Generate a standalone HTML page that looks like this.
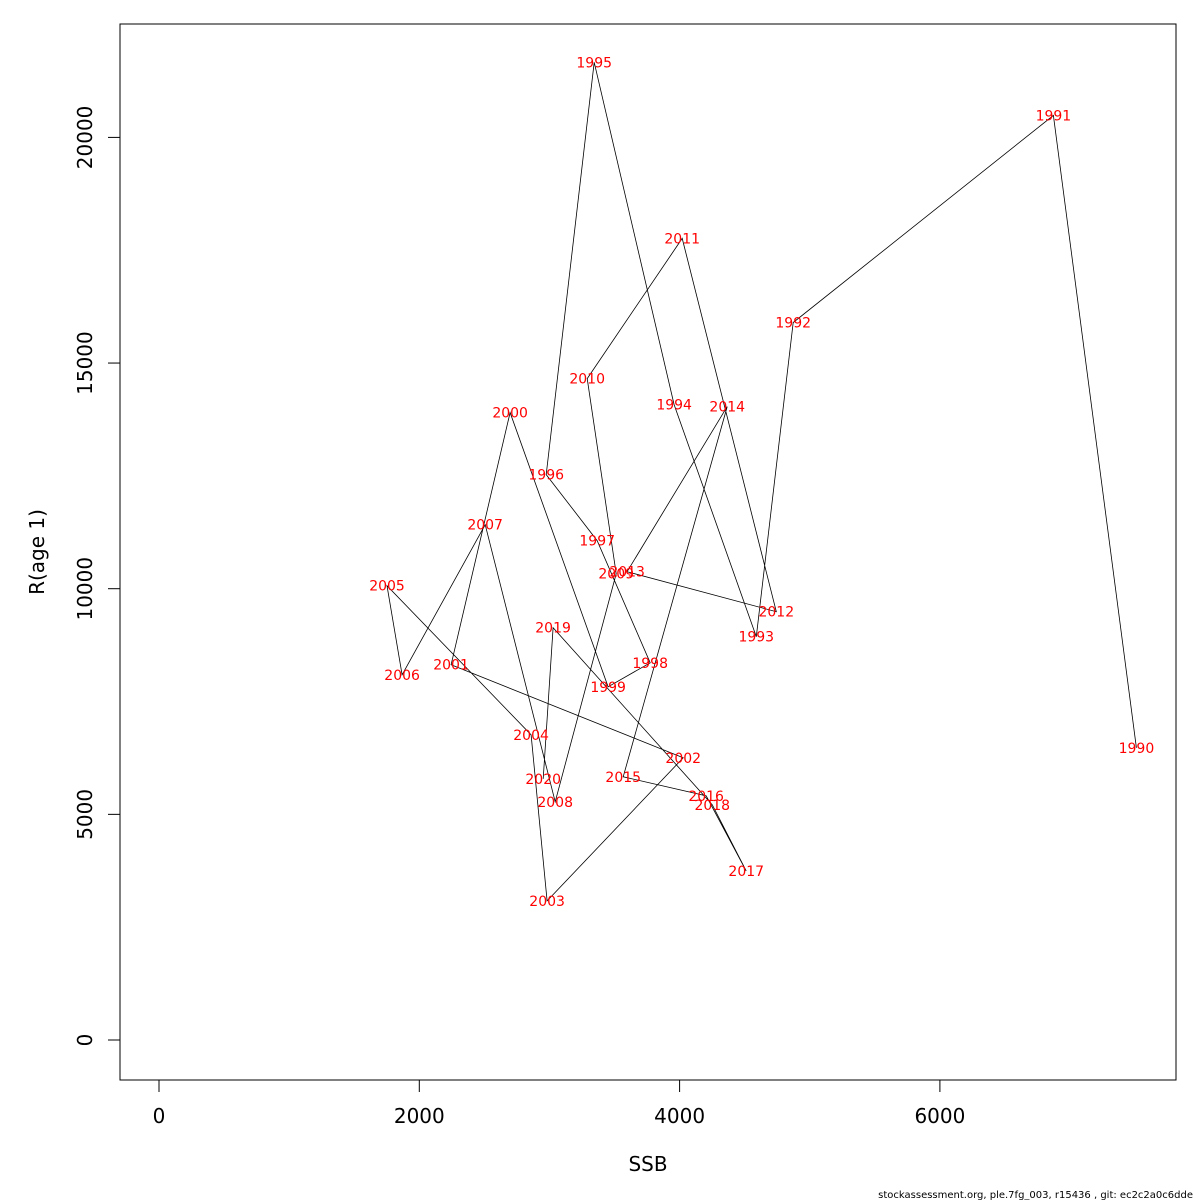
<!DOCTYPE html>
<html><head><meta charset="utf-8"><style>
body{margin:0;background:#fff}
svg{display:block;font-family:"DejaVu Sans","Liberation Sans",sans-serif}
</style></head><body>
<svg id="c" width="1200" height="1200">
<rect x="120" y="24" width="1056" height="1056" fill="none" stroke="#000" stroke-width="1"/>
<g id="marks"></g>
<text x="648" y="1171" font-size="20" text-anchor="middle">SSB</text>
<text transform="translate(44,552) rotate(-90)" font-size="20" text-anchor="middle">R(age 1)</text>
<text x="1193" y="1198" font-size="10" text-anchor="end">stockassessment.org, ple.7fg_003, r15436 , git: ec2c2a0c6dde</text>
</svg>
<script>
const years=[1990,1991,1992,1993,1994,1995,1996,1997,1998,1999,2000,2001,2002,2003,2004,2005,2006,2007,2008,2009,2010,2011,2012,2013,2014,2015,2016,2017,2018,2019,2020];
const ssb=[7510,6872,4873,4589,3958,3344,2975,3367,3774,3451,2698,2244,4028,2982,2859,1752,1868,2506,3044,3513,3290,4020,4743,3597,4366,3567,4204,4512,4251,3028,2952];
const recruits=[6474,20488,15898,8936,14080,21663,12528,11064,8359,7827,13902,8315,6253,3082,6763,10066,8093,11419,5277,10333,14656,17761,9490,10377,14035,5831,5410,3747,5211,9135,5787];
const xTicks=[0,2000,4000,6000];
const yTicks=[0,5000,10000,15000,20000];
function sx(v){return 159+v*0.13015;}
function sy(v){return 1040-v*0.04513;}
const NS='http://www.w3.org/2000/svg';
const g=document.getElementById('marks');
function mk(t,a){const e=document.createElementNS(NS,t);for(const k in a)e.setAttribute(k,a[k]);g.appendChild(e);return e;}
const pts=years.map((y,i)=>sx(ssb[i]).toFixed(1)+','+sy(recruits[i]).toFixed(1)).join(' ');
const pl=mk('polyline',{points:pts,fill:'none',stroke:'#000','stroke-width':0.8});


years.forEach((y,i)=>{
  const t=mk('text',{x:sx(ssb[i]),y:sy(recruits[i])+5,'font-size':14,fill:'#ff0000','text-anchor':'middle'});
  t.textContent=y;
  
  
});
mk('line',{x1:sx(0),x2:sx(6000),y1:1080,y2:1080,stroke:'#000'});
xTicks.forEach(v=>{
  const l=mk('line',{x1:sx(v),x2:sx(v),y1:1080,y2:1092,stroke:'#000'});
  
  
  const t=mk('text',{x:sx(v),y:1123,'font-size':20,'text-anchor':'middle'});
  t.textContent=v;
  
  
});
mk('line',{x1:120,x2:120,y1:sy(0),y2:sy(20000),stroke:'#000'});
yTicks.forEach(v=>{
  const l=mk('line',{x1:108,x2:120,y1:sy(v),y2:sy(v),stroke:'#000'});
  
  
  const t=mk('text',{transform:'translate(92,'+sy(v)+') rotate(-90)','font-size':20,'text-anchor':'middle'});
  t.textContent=v;
  
  
});
</script>
</body></html>
